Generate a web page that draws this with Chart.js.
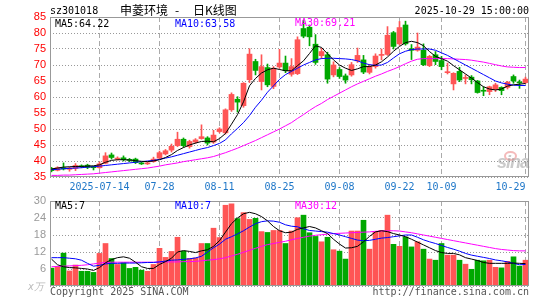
<!DOCTYPE html>
<html><head><meta charset="utf-8">
<script src="https://cdn.jsdelivr.net/npm/chart.js@4.4.1/dist/chart.umd.min.js"></script>
<style>
html,body{margin:0;padding:0;background:#fff;}
#wrap{position:relative;width:545px;height:300px;overflow:hidden;background:#fff;}
canvas{position:absolute;left:0;}
#c1{top:0;} #c2{top:188px;}
.t{position:absolute;font-family:'DejaVu Sans Mono',monospace;font-size:10px;white-space:pre;line-height:12px;}
.cn{position:absolute;font-family:'Noto Sans CJK SC',sans-serif;font-size:12px;line-height:14px;white-space:pre;color:#000;}
</style></head><body>
<div id="wrap">
<canvas id="c1" width="545" height="200"></canvas>
<canvas id="c2" width="545" height="112"></canvas>
<div class="t" style="left:50px;top:5px;color:#000;">sz301018</div>
<div class="cn" style="left:120px;top:3px;">申菱环境</div>
<div class="cn" style="left:175px;top:3px;">-</div>
<div class="cn" style="left:193px;top:3px;">日K线图</div>
<div class="t" style="right:16px;top:5px;color:#000;">2025-10-29 15:00:00</div>
<div class="t" style="left:55px;top:18px;color:#000;">MA5:64.22</div>
<div class="t" style="left:175px;top:18px;color:#0000ff;">MA10:63.58</div>
<div class="t" style="left:295px;top:17px;color:#ff00ff;">MA30:69.21</div>
<div class="t" style="left:55px;top:200px;color:#000;">MA5:7</div>
<div class="t" style="left:175px;top:200px;color:#0000ff;">MA10:7</div>
<div class="t" style="left:295px;top:200px;color:#ff00ff;">MA30:12</div>
<div class="t" style="left:50px;top:286px;color:#555;">Copyright 2025 SINA.COM</div>
<div class="t" style="right:16px;top:286px;color:#555;">http://finance.sina.com.cn</div>
<div class="t" style="left:28px;top:281px;color:#bbb;font-style:italic;">x万</div>
<div style="position:absolute;left:504px;top:151px;width:9px;height:6px;border:2px solid rgba(235,130,130,0.55);border-radius:50%;"></div>
<div style="position:absolute;left:497px;top:153px;font:italic bold 18px 'Liberation Sans',sans-serif;line-height:18px;color:rgba(150,150,150,0.5);letter-spacing:-1px;">sina</div>
</div>
<script>
const dates = ['2025-07-02','2025-07-03','2025-07-04','2025-07-07','2025-07-08','2025-07-09','2025-07-10','2025-07-11','2025-07-14','2025-07-15','2025-07-16','2025-07-17','2025-07-18','2025-07-21','2025-07-22','2025-07-23','2025-07-24','2025-07-25','2025-07-28','2025-07-29','2025-07-30','2025-07-31',
'2025-08-01','2025-08-04','2025-08-05','2025-08-06','2025-08-07','2025-08-08','2025-08-11','2025-08-12','2025-08-13','2025-08-14','2025-08-15','2025-08-18','2025-08-19','2025-08-20','2025-08-21','2025-08-22','2025-08-25','2025-08-26','2025-08-27','2025-08-28','2025-08-29',
'2025-09-01','2025-09-02','2025-09-03','2025-09-04','2025-09-05','2025-09-08','2025-09-09','2025-09-10','2025-09-11','2025-09-12','2025-09-15','2025-09-16','2025-09-17','2025-09-18','2025-09-19','2025-09-22','2025-09-23','2025-09-24','2025-09-25','2025-09-26','2025-09-29','2025-09-30',
'2025-10-09','2025-10-10','2025-10-13','2025-10-14','2025-10-15','2025-10-16','2025-10-17','2025-10-20','2025-10-21','2025-10-22','2025-10-23','2025-10-24','2025-10-27','2025-10-28','2025-10-29'];
const tickDates = ['2025-07-14','2025-07-28','2025-08-11','2025-08-25','2025-09-08','2025-09-22','2025-10-09','2025-10-29'];
const tickLabels = ['2025-07-14','07-28','08-11','08-25','09-08','09-22','10-09','10-29'];

const open = [37.6,37.1,37.9,37.4,37.7,38.5,38.7,38.0,37.9,39.3, 41.9,40.6,41.0,40.4,40.6,39.3,39.1,39.8,40.9,42.2, 43.4,44.8,46.8,44.5,45.9,47.0,47.2,45.9,49.2,48.8, 56.0,59.3,57.3,65.4,71.1,64.8,69.2,63.3,69.4,70.6, 67.1,67.3,81.4,81.8,76.5,72.9,73.2,66.9,68.6,66.6, 66.9,71.3,71.6,67.7,69.5,73.0,73.3,80.1,76.6,82.5, 75.1,74.6,74.6,69.8,73.2,71.4,67.6,64.1,68.0,65.8, 66.2,65.0,62.0,61.7,62.4,63.0,63.0,66.4,64.7,64.5];
const close = [37.0,37.9,37.5,37.8,38.6,38.2,38.0,37.9,39.1,41.6, 41.1,40.9,40.4,40.2,39.5,39.1,39.4,40.6,42.6,43.2, 44.6,46.8,44.8,46.1,46.6,47.6,45.6,48.1,50.0,56.0, 60.8,58.4,64.3,73.4,68.3,69.5,63.8,69.0,70.6,68.2, 69.5,77.9,79.0,78.8,70.8,74.2,65.6,70.0,66.4,65.3, 70.1,73.0,67.8,69.5,72.8,73.3,79.3,75.8,81.7,76.6, 74.6,75.6,70.1,72.7,71.1,69.5,67.8,67.4,65.3,66.0, 65.4,61.4,61.8,63.2,63.8,62.0,64.6,65.0,64.4,65.6];
const high = [38.0,38.2,39.4,38.1,39.2,38.8,39.0,38.3,39.7,42.6, 42.5,41.3,41.6,40.8,40.9,39.6,39.7,41.2,43.1,43.6, 45.3,49.0,47.2,46.5,47.0,51.3,47.6,49.6,50.4,56.3, 61.3,60.1,64.5,75.1,71.8,73.2,70.3,69.5,74.9,72.8, 72.0,78.8,84.0,82.5,79.5,75.2,74.0,71.0,69.2,67.2, 70.8,75.3,73.0,70.2,73.5,75.0,82.0,80.5,83.6,83.7, 76.4,80.0,76.6,73.0,74.2,72.7,70.6,67.6,69.3,66.9, 66.7,65.2,63.2,63.4,64.3,63.2,64.9,66.9,65.3,66.2];
const low = [36.6,36.9,37.2,36.8,37.0,37.9,37.6,37.2,37.7,39.1, 40.6,40.3,40.0,39.8,39.2,38.9,38.9,39.6,40.7,41.9, 42.8,44.5,44.3,44.0,45.5,46.8,45.0,45.5,48.8,48.4, 55.5,55.3,56.8,64.5,66.9,62.2,63.2,62.6,69.0,67.6, 66.5,67.0,78.5,76.0,70.2,72.0,64.3,66.3,65.8,64.3, 66.5,70.8,67.3,67.2,69.0,71.6,73.0,75.0,76.2,76.2, 71.7,74.3,69.8,69.5,70.1,68.5,67.2,62.2,64.8,64.1, 64.1,61.2,60.4,60.7,61.7,60.7,62.5,64.3,62.7,64.2];
const ma5 = [37.5,37.8,38.1,38.2,38.3,38.3,38.4,38.5,38.8,39.6, 40.2,40.4,40.4,40.3,40.1,39.9,39.8,40.0,40.4,41.1, 42.0,43.3,44.2,45.0,45.6,46.1,46.2,46.0,47.0,48.6, 51.5,54.5,58.5,63.5,65.8,67.5,68.5,69.0,68.6,68.2, 68.2,69.8,71.3,73.6,76.0,75.5,73.5,71.6,70.0,69.0, 68.3,68.8,69.5,69.5,70.0,71.0,72.5,74.3,75.8,77.0, 77.4,77.0,76.0,74.2,72.7,72.0,71.2,69.8,68.5,67.2, 65.9,64.5,63.2,62.5,62.2,62.5,63.4,63.8,64.0,64.22];
const ma10 = [37.3,37.4,37.6,37.7,37.8,37.9,38.1,38.2,38.4,38.6, 38.8,39.0,39.2,39.4,39.6,39.8,40.0,40.2,40.5,40.9, 41.3,41.8,42.3,42.8,43.3,43.8,44.2,44.8,45.5,46.6, 48.5,50.2,52.0,54.2,56.8,59.0,61.5,63.5,65.5,67.0, 68.0,69.0,70.0,70.8,71.6,72.0,72.1,72.1,72.0,71.9, 71.7,71.3,70.6,70.1,69.9,70.0,70.8,72.2,73.5,74.3, 74.8,75.0,75.0,75.0,74.6,73.8,73.0,72.0,71.0,70.0, 69.0,68.0,67.0,66.0,65.0,64.4,64.0,63.7,63.6,63.58];
const ma30 = [35.5,35.5,35.6,35.6,35.7,35.8,35.9,36.0,36.2,36.4, 36.6,36.8,37.0,37.2,37.4,37.6,37.8,38.1,38.4,38.8, 39.1,39.4,39.8,40.1,40.4,40.7,41.0,41.4,42.0,42.6, 43.3,44.0,44.8,45.6,46.4,47.3,48.2,49.1,50.0,51.0, 52.0,53.3,54.5,55.8,57.0,58.0,59.2,60.2,61.2,62.2, 63.2,64.1,64.9,65.7,66.5,67.2,68.0,68.7,69.5,70.4, 71.2,71.8,72.0,72.0,72.0,72.0,72.0,71.9,71.8,71.7, 71.5,71.2,70.9,70.5,70.1,69.7,69.4,69.3,69.2,69.21];

const vol = [6.3,6.8,11.6,5.3,7.4,5.2,5.2,4.8,11.5,15.0, 9.7,7.6,8.2,6.2,6.6,5.6,5.2,7.6,13.3,10.1, 12.2,17.2,12.3,9.7,9.9,15.0,15.0,20.4,17.1,28.5, 29.0,23.8,25.9,23.5,23.9,19.2,18.9,19.6,19.6,15.0, 19.4,24.1,25.0,18.8,17.5,15.6,17.2,12.8,12.3,9.5, 19.4,19.4,23.2,13.0,19.2,19.6,25.0,14.7,14.0,17.3, 13.8,15.6,13.0,9.5,9.1,15.0,10.9,10.9,9.1,7.7, 5.9,9.1,8.9,9.1,6.6,6.4,8.7,10.3,7.0,9.1];
const volMa5 = [9.5,7.5,6.8,6.5,6.4,6.2,6.0,5.5,6.5,8.2, 9.3,10.0,10.3,9.8,8.4,6.8,6.2,6.2,7.6,8.6, 9.8,12.0,12.5,12.2,11.8,12.4,12.8,14.0,16.0,19.0, 22.0,24.0,25.5,26.0,25.5,24.5,23.0,21.0,19.5,18.8, 19.0,20.0,20.5,21.0,20.5,19.5,18.5,16.5,14.8,13.4, 13.5,14.0,15.6,17.5,19.1,19.5,19.2,18.5,18.0,17.4, 16.5,15.5,14.5,13.5,12.5,11.8,11.5,11.5,11.0,10.0, 9.5,9.0,8.3,8.0,8.0,8.0,8.0,8.1,8.0,7.9];
const volMa10 = [10.0,10.0,10.0,9.8,9.6,9.1,8.0,7.0,7.3,7.8, 8.0,8.0,8.1,8.1,8.1,8.2,8.3,8.3,8.5,8.8, 9.1,9.2,9.4,9.6,9.9,10.5,12.0,13.5,14.8,16.5, 17.4,18.4,19.5,20.8,22.0,22.7,23.0,22.9,22.5,21.6, 21.1,20.9,20.2,19.6,19.4,19.2,19.0,18.5,18.0,17.4, 16.8,16.2,16.0,16.1,16.5,16.9,17.1,17.4,17.7,18.0, 18.0,17.2,16.3,15.6,15.0,14.3,13.6,13.0,12.3,11.5, 10.9,10.5,10.1,9.7,9.2,8.9,8.5,8.0,7.5,7.6];
const volMa30 = [6.8,6.9,7.0,7.1,7.2,7.3,7.5,7.8,8.1,8.3, 8.4,8.4,8.4,8.4,8.4,8.4,8.4,8.4,8.5,8.5, 8.5,8.5,8.6,8.6,8.7,8.9,9.1,9.3,9.6,10.0, 10.6,11.2,11.9,12.6,13.3,14.0,14.6,15.0,15.4,15.8, 16.3,16.8,17.2,17.6,17.9,18.1,18.3,18.5,18.6,18.7, 18.8,18.9,19.0,19.1,19.3,19.4,19.5,19.5,19.4,19.1, 18.8,18.4,18.0,17.6,17.2,16.8,16.4,16.0,15.6,15.2, 14.8,14.4,14.0,13.6,13.2,12.9,12.7,12.5,12.4,12.4];

const UP = '#ff5555', DOWN = '#00a800';
const idx = dates.map((d, i) => i);
const candleColors = idx.map(i => close[i] >= open[i] ? UP : DOWN);
const tickPos = tickDates.map(d => dates.indexOf(d));
const MONO = 'DejaVu Sans Mono';

const frame = {
  id: 'frame',
  afterDraw(chart) {
    const {ctx, chartArea: a} = chart;
    ctx.save();
    ctx.strokeStyle = '#999';
    ctx.lineWidth = 1;
    ctx.strokeRect(Math.round(a.left) + 0.5, Math.round(a.top) + 0.5, Math.round(a.right - a.left) - 1, Math.round(a.bottom - a.top) - 1);
    ctx.restore();
  }
};

function xAxis(showLabels) {
  return {
    type: 'linear', min: -0.25, max: 79.5833, offset: false,
    afterBuildTicks: s => { s.ticks = tickPos.map(v => ({value: v})); },
    ticks: {
      display: showLabels, autoSkip: false, maxRotation: 0, minRotation: 0, padding: 4,
      color: '#1f77c8', font: {family: MONO, size: 10},
      callback: v => {
        const k = tickPos.indexOf(v);
        if (k < 0) return '';
        return k === tickPos.length - 1 ? tickLabels[k] + '     ' : tickLabels[k];
      }
    },
    grid: {color: '#aaa', lineWidth: 1, drawTicks: false, offset: false},
    border: {display: false, dash: [5, 3]},
    afterFit: s => { s.height = showLabels ? 23 : 0; s.paddingLeft = 0; s.paddingRight = 0; }
  };
}
function yAxis(min, max, step, color, hideZero) {
  return {
    type: 'linear', position: 'left', min: min, max: max,
    ticks: {
      stepSize: step, autoSkip: false, color: color, padding: 4, font: {family: 'Liberation Sans', size: 11},
      callback: v => (hideZero && v === 0) ? '' : String(v)
    },
    grid: {color: '#999', lineWidth: 1, drawTicks: false},
    border: {display: false, dash: [1, 2]},
    afterFit: s => { s.width = 50; s.paddingTop = 0; s.paddingBottom = 0; }
  };
}
function maLine(label, arr, color) {
  return {type: 'line', label: label, data: idx.map(i => ({x: i, y: arr[i]})), borderColor: color,
    borderWidth: 1, pointRadius: 0, tension: 0, fill: false, order: 0};
}
const common = {
  responsive: false, animation: false, devicePixelRatio: 1,
  plugins: {legend: {display: false}, tooltip: {enabled: false}, title: {display: false}}
};

new Chart(document.getElementById('c1'), {
  type: 'bar',
  data: {
    datasets: [
      maLine('MA5', ma5, '#000000'),
      maLine('MA10', ma10, '#0000ff'),
      maLine('MA30', ma30, '#ff00ff'),
      {type: 'bar', label: 'body', data: idx.map(i => ({x: i, y: [open[i], close[i]]})),
        backgroundColor: candleColors, barThickness: 5, minBarLength: 1, grouped: false, order: 1},
      {type: 'bar', label: 'wick', data: idx.map(i => ({x: i, y: [low[i], high[i]]})),
        backgroundColor: candleColors, barThickness: 1, grouped: false, order: 2}
    ]
  },
  options: Object.assign({}, common, {
    layout: {padding: {left: 0, right: 16, top: 17, bottom: 0}},
    scales: {x: xAxis(true), y: yAxis(35, 85, 5, '#ff0000', false)}
  }),
  plugins: [frame]
});

new Chart(document.getElementById('c2'), {
  type: 'bar',
  data: {
    datasets: [
      maLine('MA5', volMa5, '#000000'),
      maLine('MA10', volMa10, '#0000ff'),
      maLine('MA30', volMa30, '#ff00ff'),
      {type: 'bar', label: 'vol', data: idx.map(i => ({x: i, y: vol[i]})),
        backgroundColor: candleColors, barThickness: 5, grouped: false, order: 1}
    ]
  },
  options: Object.assign({}, common, {
    layout: {padding: {left: 0, right: 16, top: 13, bottom: 14}},
    scales: {x: xAxis(false), y: yAxis(0, 30, 6, '#999999', true)}
  }),
  plugins: [frame]
});
</script>
</body></html>
